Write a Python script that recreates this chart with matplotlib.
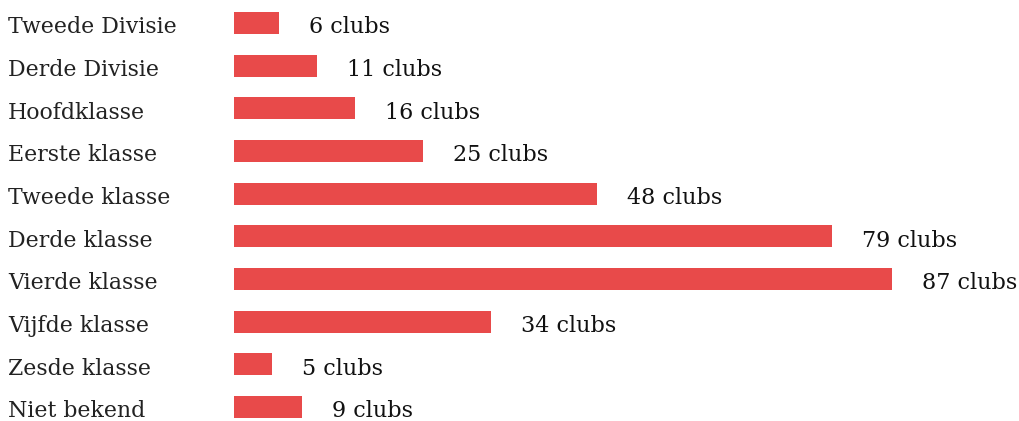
import matplotlib
matplotlib.use("Agg")
import matplotlib.pyplot as plt

categories = ["Tweede Divisie", "Derde Divisie", "Hoofdklasse", "Eerste klasse",
              "Tweede klasse", "Derde klasse", "Vierde klasse", "Vijfde klasse",
              "Zesde klasse", "Niet bekend"]
clubs = [6, 11, 16, 25, 48, 79, 87, 34, 5, 9]

bar_color = "#e84a4a"

fig = plt.figure(figsize=(10.2, 4.21), dpi=100)
ax = fig.add_axes([234 / 1020, -7.3 / 421, 786 / 1020, 426.7 / 421])

ypos = list(range(len(categories)))
ax.barh(ypos, clubs, height=0.52, color=bar_color)
ax.set_xlim(0, 103.9)
ax.set_ylim(9.5, -0.5)
ax.axis("off")

for y, name, v in zip(ypos, categories, clubs):
    # category name at the left edge of the figure
    ax.annotate(name, xy=(0, y), xycoords=("figure fraction", "data"),
                xytext=(8, -10.3), textcoords="offset pixels",
                ha="left", va="baseline", fontsize=15.8,
                family="DejaVu Serif", color="#222222")
    ax.annotate(f"{v} clubs", xy=(v, y), xytext=(30, -10.3),
                textcoords="offset pixels", ha="left", va="baseline",
                fontsize=16, family="DejaVu Serif", color="#111111")

fig.savefig("out.png", dpi=100, facecolor="white")
